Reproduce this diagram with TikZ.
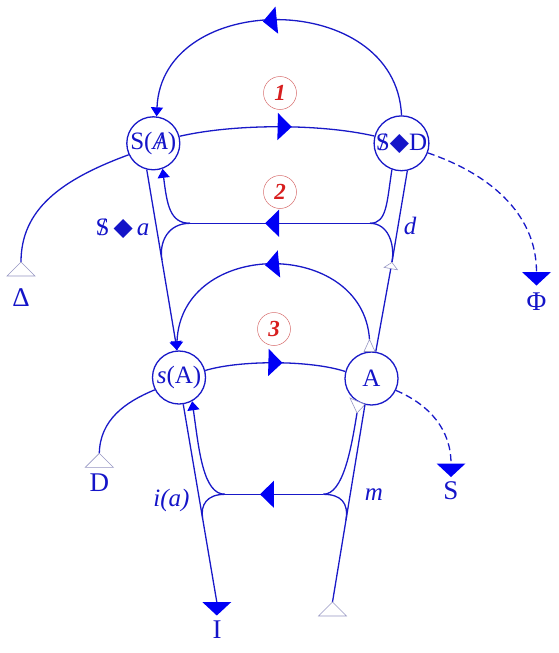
\documentclass[tikz,border=0pt]{standalone}
\usepackage{fontspec}
\setmainfont{Liberation Serif}
\newfontfamily\dejavu{DejaVu Sans}
\usetikzlibrary{arrows.meta,decorations.markings,calc}
\definecolor{lnc}{RGB}{25,25,200}
\definecolor{flc}{RGB}{0,0,245}
\definecolor{txc}{RGB}{20,20,200}
\definecolor{holc}{RGB}{150,150,195}
\definecolor{rtc}{RGB}{215,30,30}
\definecolor{rcc}{RGB}{215,110,110}
\newcommand\barS{\ooalign{S\cr\hidewidth/\hidewidth\cr}}
\newcommand\barA{\ooalign{\textit{A}\cr\hidewidth/\hidewidth\cr}}
\newcommand\dia{{\dejavu ◆}}
\begin{document}
\begin{tikzpicture}[x=1pt,y=-1pt,
  wire/.style={draw=lnc, line width=1.3pt},
  circ/.style={circle, draw=lnc, line width=1.3pt, minimum size=53pt, inner sep=0pt, text=txc, font=\fontsize{25}{25}\selectfont},
  lab/.style={text=txc, font=\fontsize{27}{27}\selectfont, inner sep=0pt},
  slab/.style={text=txc, font=\fontsize{25}{25}\selectfont\itshape, inner sep=0pt},
  num/.style={circle, draw=rcc, line width=0.5pt, minimum size=33pt, inner sep=0pt, text=rtc, font=\fontsize{23}{23}\selectfont\bfseries\itshape},
  mid/.style={postaction={decorate, decoration={markings, mark=at position #1 with {\arrow{Triangle[width=27pt,length=14pt,color=flc]}}}}},
  endtip/.style={-{Triangle[width=12pt,length=9pt,color=flc]}},
  holtip/.style={-{Triangle[open,width=15pt,length=7pt,color=holc,line width=0.6pt]}},
  dsh/.style={dash pattern=on 7pt off 4pt},
  hol/.style={draw=holc, line width=0.6pt, fill=white},
  pics/holtri/.style={code={\draw[hol] (0,0) -- (-14,14) -- (14,14) -- cycle;}},
  pics/filtri/.style={code={\fill[flc] (-14.5,0) -- (14.5,0) -- (0,13.5) -- cycle;}},
]
\useasboundingbox (0,0) rectangle (558,653);

% main nodes
\node[circ] (SA) at (153.3,143.3) {S(\barA)};
\node[circ] (SD) at (401.5,143.3) {\barS\dia D};
\node[circ] (sA) at (179,377.5) {\textit{s}(A)};
\node[circ] (A) at (371.5,378.5) {A};
\node[num] (n1) at (280,93) {1};
\node[num] (n2) at (280,192) {2};
\node[num] (n3) at (274,329) {3};

% coordinates
\coordinate (J2L) at (190,223.3);
\coordinate (J2R) at (370,223.3);
\coordinate (J3L) at (225,494.3);
\coordinate (J3R) at (323.3,494.3);
\coordinate (T2) at (392,262);
\coordinate (Tb) at (332.5,602);
\coordinate (TI) at (216.8,602);
\coordinate (TDl) at (21,262);
\coordinate (TD) at (99.3,453.3);
\coordinate (TPhi) at (536.5,272);
\coordinate (TS) at (451,463.5);
\coordinate (TAt) at (369.5,339.5);
\coordinate (TAb) at (357,413);
\coordinate (M2L) at ($(SA.-104)!0.5!(sA.94)$);
\coordinate (M3L) at ($(sA.-81)!0.577!(TI)$);
\coordinate (M3R) at ($(Tb)!0.415!(A.-104)$);

% level 1
\draw[wire, endtip, mid=0.546] (SD.90) .. controls (396,-11) and (162,-11) .. (SA.83);
\draw[wire, mid=0.575] (SA.15) .. controls (235,123.6) and (320,123.6) .. (SD.165);

% level 2
\draw[wire, mid=0.583] (J2R) -- (J2L);
\draw[wire] (J2R) .. controls (387,223.3) and (386.7,203) .. (SD.-110);
\draw[wire] (J2R) .. controls (388,223.3) and ($(T2)!0.2!(SD.-78)$) .. (T2);
\draw[wire, endtip] (J2L) .. controls (170,223.3) and (167,205) .. (SA.-70);
\draw[wire] (J2L) .. controls (168,223.3) and ($(M2L)!0.2!(SA.-104)$) .. (M2L);
\draw[wire] (SD.-78) -- (T2);
\draw[wire, holtip] (A.81) -- (T2);
\draw[wire, endtip] (SA.-104) -- (sA.94);

% level 3
\draw[wire, endtip, mid=0.515] (TAt) .. controls (363,238) and (181,238) .. (sA.95);
\draw[wire, mid=0.55] (sA.15) .. controls (240,360) and (310,360) .. (A.165);
\draw[hol] (TAt) -- (364,351.5) -- (375,351.5) -- cycle;

% bottom
\draw[wire, mid=0.644] (J3R) -- (J3L);
\draw[wire, endtip] (J3L) .. controls (203,494.3) and (199,450) .. (sA.-61);
\draw[wire] (J3L) .. controls (207,494.3) and ($(M3L)!0.12!(sA.-81)$) .. (M3L);
\draw[wire] (J3R) .. controls (343,494.3) and (351,450) .. (TAb);
\draw[wire] (J3R) .. controls (341,494.3) and ($(M3R)!0.15!(A.-104)$) .. (M3R);
\draw[hol] (TAb) -- (350,398) -- (365,404.5) -- cycle;
\draw[wire] (sA.-81) -- (TI);
\draw[wire] (Tb) -- (A.-104);
\pic at (TI) {filtri};
\pic at (Tb) {holtri};

% side branches
\draw[wire] (SA.205) .. controls (60,180) and (21,210) .. (TDl);
\pic at (TDl) {holtri};
\draw[wire] (sA.207) .. controls (125,402) and (100,420) .. (TD);
\pic at (TD) {holtri};
\draw[wire, dsh] (SD.-20) .. controls (487,173) and (536.5,212) .. (TPhi);
\pic at (TPhi) {filtri};
\draw[wire, dsh] (A.-26) .. controls (430,405) and (451,430) .. (TS);
\pic at (TS) {filtri};

% labels
\node[lab] (lDelta) at (21,298) {Δ};
\node[lab] (lPhi) at (536.5,302) {Φ};
\node[lab] (lD) at (99.3,483) {D};
\node[lab] (lS) at (451,491) {S};
\node[lab] (lI) at (217,630) {I};
\node[lab, font=\fontsize{25}{25}\selectfont] (lsa) at (122.5,229) {\barS\,\dia\,\textit{a}};
\node[slab] (ld) at (410,226) {d};
\node[slab] (lia) at (171.5,500) {i(a)};
\node[slab] (lm) at (374,495) {m};
\end{tikzpicture}
\end{document}
